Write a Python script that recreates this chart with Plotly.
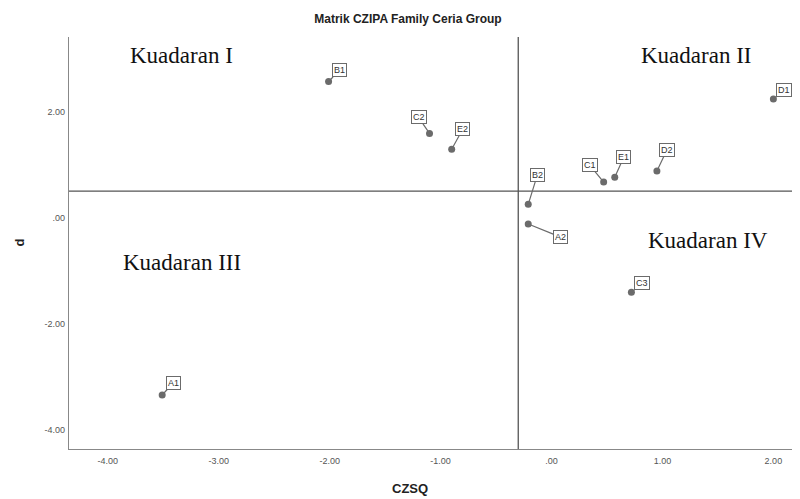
import plotly.graph_objects as go

labels = ["A1", "B1", "C2", "E2", "B2", "A2", "C1", "E1", "D2", "D1", "C3"]
czsq = [-3.51, -2.01, -1.10, -0.90, -0.21, -0.21, 0.47, 0.57, 0.95, 2.00, 0.72]
d_vals = [-3.34, 2.58, 1.60, 1.30, 0.26, -0.11, 0.68, 0.77, 0.89, 2.25, -1.40]
# label offsets in pixels (ax, ay)
label_ax = [11, 11, -11, 11, 9, 32, -14, 9, 10, 11, 11]
label_ay = [-12, -11, -16, -20, -29, 13, -17, -20, -21, -9, -9]

x_ref = -0.30
y_ref = 0.51

tick_x = [-4, -3, -2, -1, 0, 1, 2]
tick_x_text = ["-4.00", "-3.00", "-2.00", "-1.00", ".00", "1.00", "2.00"]
tick_y = [-4, -2, 0, 2]
tick_y_text = ["-4.00", "-2.00", ".00", "2.00"]

quad_text = ["Kuadaran I", "Kuadaran II", "Kuadaran III", "Kuadaran IV"]
quad_x = [-3.34, 1.30, -3.33, 1.41]
quad_y = [3.07, 3.07, -0.83, -0.42]

x_range = [-4.35, 2.24]
y_range = [-4.36, 3.42]

fig = go.Figure()
fig.add_trace(go.Scatter(
    x=czsq, y=d_vals, mode="markers",
    marker=dict(color="#6b6b6b", size=7),
    showlegend=False, hoverinfo="text", text=labels, cliponaxis=False,
))

for lab, xv, yv, ax, ay in zip(labels, czsq, d_vals, label_ax, label_ay):
    fig.add_annotation(
        x=xv, y=yv, text=lab, showarrow=True, ax=ax, ay=ay,
        arrowhead=0, arrowwidth=1.2, arrowcolor="#6b6b6b",
        bordercolor="#6b6b6b", borderwidth=1, borderpad=1, bgcolor="white",
        font=dict(family="Liberation Sans, Arial", size=9, color="#333"),
        standoff=0,
    )

for t, xv, yv in zip(quad_text, quad_x, quad_y):
    fig.add_annotation(
        x=xv, y=yv, text=t, showarrow=False,
        font=dict(family="Liberation Serif, Times New Roman", size=23, color="#111"),
    )

# axis titles
fig.add_annotation(xref="paper", yref="paper", x=0.466, y=-0.119, text="<b>CZSQ</b>",
                   showarrow=False,
                   font=dict(family="Liberation Sans, Arial", size=13, color="#222"))
fig.add_annotation(xref="paper", yref="paper", x=-0.082, y=0.50, text="<b>d</b>",
                   showarrow=False, textangle=-90,
                   font=dict(family="Liberation Sans, Arial", size=13, color="#222"))

fig.add_shape(type="line", xref="x", yref="paper", x0=x_ref, x1=x_ref, y0=0, y1=1,
              line=dict(color="#555", width=1.3), layer="below")
fig.add_shape(type="line", xref="paper", yref="y", x0=0, x1=1, y0=y_ref, y1=y_ref,
              line=dict(color="#555", width=1.3), layer="below")

fig.update_layout(
    width=792, height=491,
    margin=dict(l=61, r=0, t=29, b=50, autoexpand=False),
    plot_bgcolor="white", paper_bgcolor="white",
    title=dict(text="<b>Matrik CZIPA Family Ceria Group</b>", x=0.505, xanchor="center",
               y=0.978, yanchor="middle",
               font=dict(family="Liberation Sans, Arial", size=12, color="#222")),
    xaxis=dict(range=x_range, tickvals=tick_x, ticktext=tick_x_text, automargin=False,
               showgrid=False, zeroline=False, showline=True, linecolor="#888", linewidth=1.2,
               ticks="", ticklabelstandoff=3,
               tickfont=dict(family="Liberation Sans, Arial", size=9, color="#555")),
    yaxis=dict(range=y_range, tickvals=tick_y, ticktext=tick_y_text, automargin=False,
               showgrid=False, zeroline=False, showline=True, linecolor="#888", linewidth=1.2,
               ticks="", ticklabelstandoff=1,
               tickfont=dict(family="Liberation Sans, Arial", size=9, color="#555")),
)

fig.write_html("out.html")
